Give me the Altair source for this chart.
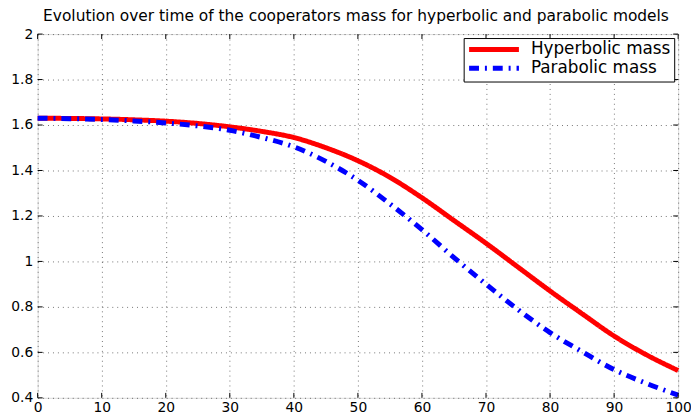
import altair as alt
import pandas as pd

# ---- data ----
x_vals = [0, 5, 10, 15, 20, 25, 30, 35, 40, 45, 50, 55, 60, 65, 70, 75, 80, 85, 90, 95, 100]
hyperbolic = [1.630, 1.629, 1.627, 1.623, 1.617, 1.607, 1.592, 1.572, 1.545, 1.500, 1.443,
              1.370, 1.280, 1.180, 1.080, 0.975, 0.870, 0.770, 0.672, 0.590, 0.520]
parabolic = [1.630, 1.628, 1.624, 1.618, 1.609, 1.596, 1.577, 1.545, 1.504, 1.440, 1.357,
             1.253, 1.140, 1.017, 0.900, 0.788, 0.687, 0.603, 0.524, 0.464, 0.412]
series_names = ["Hyperbolic mass", "Parabolic mass"]
series_colors = ["#ff0000", "#0000ff"]
x_ticks = [0, 10, 20, 30, 40, 50, 60, 70, 80, 90, 100]
y_ticks = [0.4, 0.6, 0.8, 1, 1.2, 1.4, 1.6, 1.8, 2]
title_text = "Evolution over time of the cooperators mass for hyperbolic and parabolic models"

W, H = 648, 368
FONT = "DejaVu Sans"

df_h = pd.DataFrame({"t": x_vals, "mass": hyperbolic, "series": series_names[0]})
df_p = pd.DataFrame({"t": x_vals, "mass": parabolic, "series": series_names[1]})
df_xt = pd.DataFrame({"t": x_ticks})
df_yt = pd.DataFrame({"mass": y_ticks})

x_scale = alt.Scale(domain=[0, 100], nice=False, zero=False)
y_scale = alt.Scale(domain=[0.4, 2], nice=False, zero=False)

color = alt.Color("series:N", scale=alt.Scale(domain=series_names, range=series_colors),
                  legend=alt.Legend(title=None, orient="top-right", offset=4,
                                    symbolType="M-1,0H7.4", symbolSize=144, symbolStrokeWidth=5,
                                    symbolOffset=0,
                                    labelFontSize=17, labelFont=FONT, labelColor="black",
                                    fillColor="white", strokeColor="black", padding=3,
                                    rowPadding=-5, labelOffset=48, labelLimit=400))
dash = alt.StrokeDash("series:N", scale=alt.Scale(domain=series_names, range=[[1, 0], [10, 6, 2, 6]]),
                      legend=None)

x_enc = alt.X("t:Q", scale=x_scale,
              axis=alt.Axis(values=x_ticks, title=None, grid=True, ticks=False, domain=False,
                            labelFontSize=14, labelFont=FONT, labelColor="black", labelPadding=3,
                            gridColor="#000000", gridOpacity=0.55, gridDash=[1, 4], labelFlush=False))
y_enc = alt.Y("mass:Q", scale=y_scale,
              axis=alt.Axis(values=y_ticks, title=None, grid=True, ticks=False, domain=False,
                            format="~g", labelFontSize=14, labelFont=FONT, labelColor="black",
                            labelPadding=5, gridColor="#000000", gridOpacity=0.55,
                            gridDash=[1, 4], labelFlush=False))

red = alt.Chart(df_h).mark_line(strokeWidth=5, interpolate="monotone").encode(
    x=x_enc, y=y_enc, color=color, strokeDash=dash)
blue = alt.Chart(df_p).mark_line(strokeWidth=5, interpolate="monotone").encode(
    x=alt.X("t:Q", scale=x_scale), y=alt.Y("mass:Q", scale=y_scale), color=color, strokeDash=dash)

tick_style = dict(color="black", strokeWidth=1)
xt_bottom = alt.Chart(df_xt).mark_rule(**tick_style).encode(
    x=alt.X("t:Q", scale=x_scale), y=alt.value(H), y2=alt.value(H - 5))
xt_top = alt.Chart(df_xt).mark_rule(**tick_style).encode(
    x=alt.X("t:Q", scale=x_scale), y=alt.value(0), y2=alt.value(5))
yt_left = alt.Chart(df_yt).mark_rule(**tick_style).encode(
    y=alt.Y("mass:Q", scale=y_scale), x=alt.value(0), x2=alt.value(5))
yt_right = alt.Chart(df_yt).mark_rule(**tick_style).encode(
    y=alt.Y("mass:Q", scale=y_scale), x=alt.value(W), x2=alt.value(W - 5))

chart = alt.layer(red, blue, xt_bottom, xt_top, yt_left, yt_right).properties(
    width=W, height=H,
    title=alt.TitleParams(title_text, fontSize=15.6, font=FONT, fontWeight="normal",
                          color="black", anchor="start", frame="group", offset=3, dx=5.5),
    padding={"left": 30, "top": 24, "right": 13, "bottom": 17},
    autosize=alt.AutoSizeParams(type="none"),
).configure_view(stroke="black", strokeWidth=1).configure(background="white")

chart.save("out.html", embed_options={"renderer": "svg", "actions": False})
